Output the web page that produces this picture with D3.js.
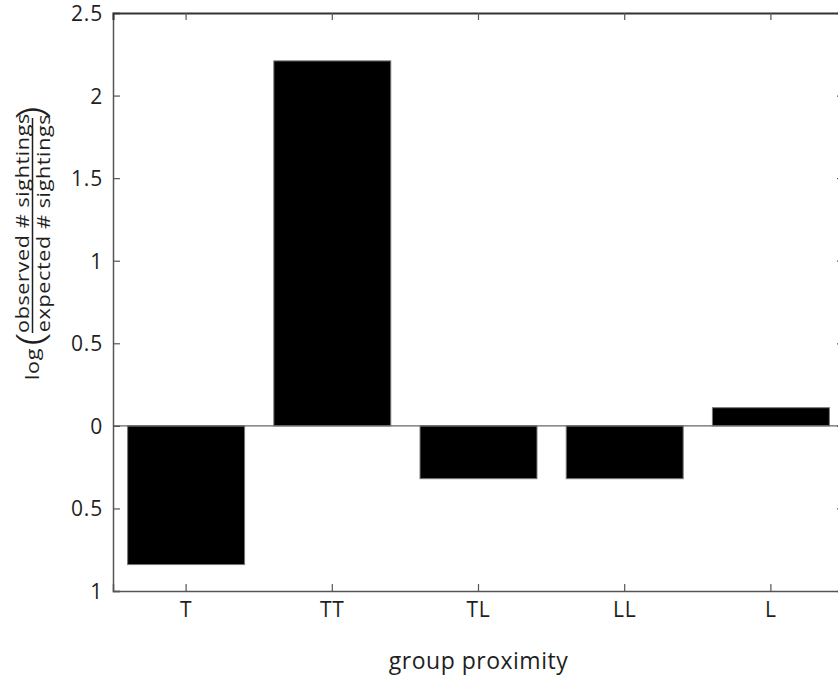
<!DOCTYPE html>
<html><head><meta charset="utf-8">
<script src="https://cdn.jsdelivr.net/npm/d3@7/dist/d3.min.js"></script>
<style>
html,body{margin:0;padding:0;background:#fff;overflow:hidden;}
text{font-family:"Open Sans","Noto Sans",sans-serif;fill:#1f1f1f;}
</style></head>
<body>
<svg id="chart" width="838" height="681"></svg>
<script>
const categories = ["T", "TT", "TL", "LL", "L"];
const values = [-0.84, 2.21, -0.32, -0.32, 0.11];
const yTicks = [-1, -0.5, 0, 0.5, 1, 1.5, 2, 2.5];
const yTickLabels = ["1", "0.5", "0", "0.5", "1", "1.5", "2", "2.5"];

const svg = d3.select("#chart");
const mLeft = 113, mRight = 844, mTop = 13, mBottom = 591;

const x = d3.scaleBand().domain(categories).range([mLeft, mRight]).paddingInner(0.2).paddingOuter(0.1);
const y = d3.scaleLinear().domain([-1, 2.5]).range([mBottom, mTop]);

// bars
svg.append("g").selectAll("rect").data(values).join("rect")
  .attr("x", (d, i) => x(categories[i]))
  .attr("width", x.bandwidth())
  .attr("y", d => y(Math.max(0, d)))
  .attr("height", d => Math.abs(y(d) - y(0)))
  .attr("fill", "#000")
  .attr("stroke", "#777")
  .attr("stroke-width", 1);

// zero baseline
svg.append("line")
  .attr("x1", mLeft).attr("x2", mRight)
  .attr("y1", y(0)).attr("y2", y(0))
  .attr("stroke", "#666").attr("stroke-width", 1.2);

// axes
const tickLen = 7;
const yAxisL = d3.axisLeft(y).tickValues(yTicks).tickSize(-tickLen).tickPadding(10)
  .tickFormat((d, i) => yTickLabels[i]);
const gL = svg.append("g").attr("transform", `translate(${mLeft},0)`).call(yAxisL);
const yAxisR = d3.axisRight(y).tickValues(yTicks).tickSize(-tickLen).tickFormat("");
const gR = svg.append("g").attr("transform", `translate(${mRight},0)`).call(yAxisR);
const xAxisB = d3.axisBottom(x).tickSize(-tickLen).tickPadding(11);
const gB = svg.append("g").attr("transform", `translate(0,${mBottom})`).call(xAxisB);
const xAxisT = d3.axisTop(x).tickSize(-tickLen).tickFormat("");
const gT = svg.append("g").attr("transform", `translate(0,${mTop})`).call(xAxisT);

[gL, gR, gB, gT].forEach(g => {
  g.select(".domain").attr("stroke", "#555").attr("stroke-width", 1.5);
  g.selectAll(".tick line").attr("stroke", "#555").attr("stroke-width", 1.2);
  g.selectAll(".tick text").attr("font-size", 21).attr("fill", "#1f1f1f")
    .attr("letter-spacing", 0.8)
    .attr("font-family", '"Open Sans","Noto Sans",sans-serif');
});
gT.select(".domain").attr("stroke", "#333").attr("stroke-width", 2);
gL.selectAll(".tick text").attr("dy", "0.36em");

// x title
svg.append("text")
  .attr("x", (mLeft + mRight) / 2).attr("y", 669)
  .attr("text-anchor", "middle").attr("font-size", 23).attr("letter-spacing", 0.5)
  .text("group proximity");

// y title: log ( observed / expected )
const k = 1.2; // stretch along text direction
const kp = 1.3; // paren stretch
const yt = svg.append("g").attr("transform", "translate(33,0) rotate(-90)");
yt.append("text").attr("transform", `scale(${k},1)`)
  .attr("x", -380 / k).attr("y", 5.5).attr("font-size", 18).attr("letter-spacing", 0.5).text("log");
yt.append("text").attr("transform", `scale(${kp},1)`)
  .attr("x", -339 / kp).attr("y", 11).attr("text-anchor", "middle").attr("font-size", 38)
  .attr("font-family", '"DejaVu Sans",sans-serif').attr("font-weight", 200).text("(");
yt.append("line").attr("x1", -333).attr("x2", -118).attr("y1", -0.5).attr("y2", -0.5)
  .attr("stroke", "#1f1f1f").attr("stroke-width", 1.5);
yt.append("text").attr("transform", `scale(${k},1)`)
  .attr("x", -223 / k).attr("y", -4.5).attr("text-anchor", "middle")
  .attr("font-size", 18).attr("letter-spacing", 0.5).text("observed # sightings");
yt.append("text").attr("transform", `scale(${k},1)`)
  .attr("x", -223 / k).attr("y", 17).attr("text-anchor", "middle")
  .attr("font-size", 18).attr("letter-spacing", 0.5).text("expected # sightings");
yt.append("text").attr("transform", `scale(${kp},1)`)
  .attr("x", -113 / kp).attr("y", 11).attr("text-anchor", "middle").attr("font-size", 38)
  .attr("font-family", '"DejaVu Sans",sans-serif').attr("font-weight", 200).text(")");
</script>
</body></html>
